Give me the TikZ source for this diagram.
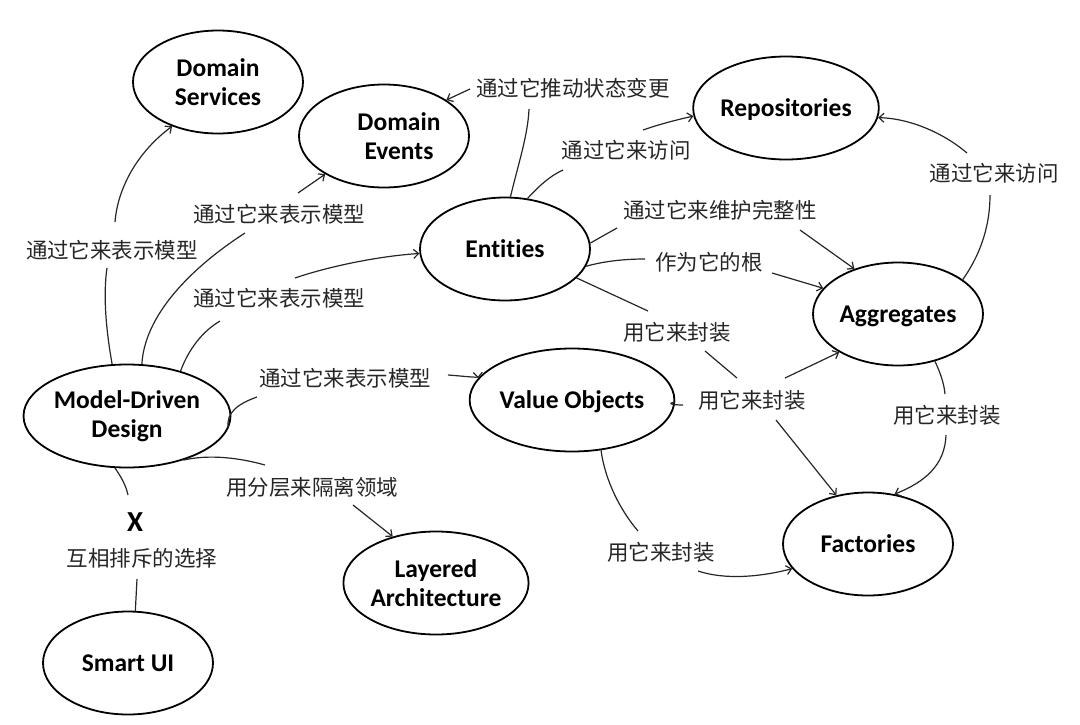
\documentclass[tikz,border=0pt]{standalone}
\usepackage{fontspec}
\setmainfont{Carlito}[Ligatures=CommonOff]
\newfontfamily\cjk{Noto Sans CJK SC}
\usetikzlibrary{arrows.meta,shapes.geometric}
\begin{document}
\begin{tikzpicture}[x=1pt,y=-1pt,
  cfont/.style={font=\fontsize{25.5}{29}\selectfont\bfseries},
  concept/.style={ellipse, draw, line width=1.8pt, minimum width=170pt, minimum height=103pt, inner sep=0pt, align=center, cfont},
  oneline/.style={text height=16.4pt, text depth=0pt},
  lab/.style={font=\fontsize{21.5}{24}\selectfont\cjk, inner sep=0pt, text=black!85},
  link/.style={line width=1.2pt, draw=black!85},
  arr/.style={link, -{Straight Barb[length=5pt,width=9pt]}}]
\useasboundingbox (0,0) rectangle (1080,724);

% concepts
\node[concept] (ds)  at (218,82)  {Domain\\Services};
\node[concept, label={[cfont, align=center, xshift=15pt]center:{Domain\\Events}}] (de) at (384,136) {};
\node[concept, oneline] (ent) at (505,249) {Entities};
\node[concept, oneline] (rep) at (786,108) {Repositories};
\node[concept, oneline] (agg) at (898,314) {Aggregates};
\node[concept] (mdd) at (127,416) {Model-Driven\\Design};
\node[concept, oneline] (vo)  at (572,400) {Value Objects};
\node[concept, oneline] (fac) at (868,544) {Factories};
\node[concept] (la)  at (436,583) {Layered\\Architecture};
\node[concept, oneline] (sui) at (128,663) {Smart UI};
\node[font=\fontsize{29}{30}\selectfont\bfseries, inner sep=0pt] (x) at (135,522) {X};

% labels
\node[lab] (l1)  at (112,250) {通过它来表示模型};
\node[lab] (l2)  at (279,214) {通过它来表示模型};
\node[lab] (l3)  at (279,298) {通过它来表示模型};
\node[lab] (l4)  at (345,378) {通过它来表示模型};
\node[lab] (l5)  at (312,487) {用分层来隔离领域};
\node[lab] (l6)  at (142,558) {互相排斥的选择};
\node[lab] (l7)  at (573,88)  {通过它推动状态变更};
\node[lab] (l8)  at (626,150) {通过它来访问};
\node[lab] (l9)  at (720,210) {通过它来维护完整性};
\node[lab] (l10) at (709,262) {作为它的根};
\node[lab] (l11) at (677,332) {用它来封装};
\node[lab] (l12) at (752,400) {用它来封装};
\node[lab] (l13) at (994,173) {通过它来访问};
\node[lab] (l14) at (947,415) {用它来封装};
\node[lab] (l15) at (661,552) {用它来封装};

% free ends near labels
\coordinate (a1) at (107,268); \coordinate (b1) at (115,222);
\coordinate (a2) at (245,233); \coordinate (b2) at (298,193);
\coordinate (a3) at (220,321); \coordinate (b3) at (295,278);
\coordinate (a4) at (257,397); \coordinate (b4) at (448,375);
\coordinate (a5) at (265,465); \coordinate (b5) at (353,505);
\coordinate (a6) at (128,495); \coordinate (b6) at (137,579);
\coordinate (a7) at (529,109); \coordinate (b7) at (470,89);
\coordinate (a8) at (563,170); \coordinate (b8) at (643,130);
\coordinate (a9) at (617,228); \coordinate (b9) at (800,230);
\coordinate (a10) at (645,259); \coordinate (b10) at (772,273);
\coordinate (a11) at (648,311); \coordinate (m11a) at (705,351); \coordinate (m11b) at (737,378); \coordinate (b11) at (776,420);
\coordinate (a12) at (683,405); \coordinate (b12) at (785,378);
\coordinate (a13) at (990,195); \coordinate (b13) at (967,153);
\coordinate (a14) at (945,394); \coordinate (b14) at (946,435);
\coordinate (a15) at (638,531); \coordinate (b15) at (698,571);

% MDD links
\draw[link] (mdd.106) .. controls (106,330) and (103,295) .. (a1);
\draw[arr]  (b1) .. controls (118,185) and (140,150) .. (ds.224);
\draw[link] (mdd.74) .. controls (145,310) and (200,262) .. (a2);
\draw[arr]  (b2) -- (de.213);
\draw[link] (mdd.40) .. controls (186,356) and (198,334) .. (a3);
\draw[arr]  (b3) .. controls (330,266) and (380,256) .. (ent.183);
\draw[link] (mdd.-7) .. controls (225,412) and (240,403) .. (a4);
\draw[arr]  (b4) .. controls (462,376) and (478,378) .. (vo.167);
\draw[link] (mdd.-38) .. controls (210,454) and (240,458) .. (a5);
\draw[arr]  (b5) -- (la.133);
\draw[link] (mdd.257) .. controls (122,478) and (126,486) .. (a6);
\draw[link] (b6) -- (sui.82);

% Entities links
\draw[link] (ent.84.5) .. controls (518,165) and (528,135) .. (a7);
\draw[arr]  (b7) -- (de.30);
\draw[link] (ent.66) .. controls (540,185) and (550,176) .. (a8);
\draw[arr]  (b8) .. controls (660,124) and (680,119) .. (rep.185);
\draw[link] (ent.4) -- (a9);
\draw[arr]  (b9) -- (agg.134);
\draw[link] (ent.-12) .. controls (605,261) and (625,259) .. (a10);
\draw[arr]  (b10) -- (agg.161);
\draw[link] (ent.-22) -- (a11);
\draw[link] (m11a) -- (m11b);
\draw[arr]  (b11) -- (fac.123);

% Value Objects links
\draw[link] (vo.-1) .. controls (665,404) and (675,405) .. (a12);
\draw[arr]  (b12) -- (agg.213);
\draw[link] (vo.-60) .. controls (605,480) and (620,510) .. (a15);
\draw[arr]  (b15) .. controls (725,580) and (760,577) .. (fac.198);

% Aggregates links
\draw[link] (agg.28) .. controls (978,258) and (990,230) .. (a13);
\draw[arr]  (b13) .. controls (940,130) and (905,118) .. (rep.-6);
\draw[link] (agg.-52) .. controls (940,372) and (944,383) .. (a14);
\draw[arr]  (b14) .. controls (945,465) and (925,482) .. (fac.62);
\end{tikzpicture}
\end{document}
